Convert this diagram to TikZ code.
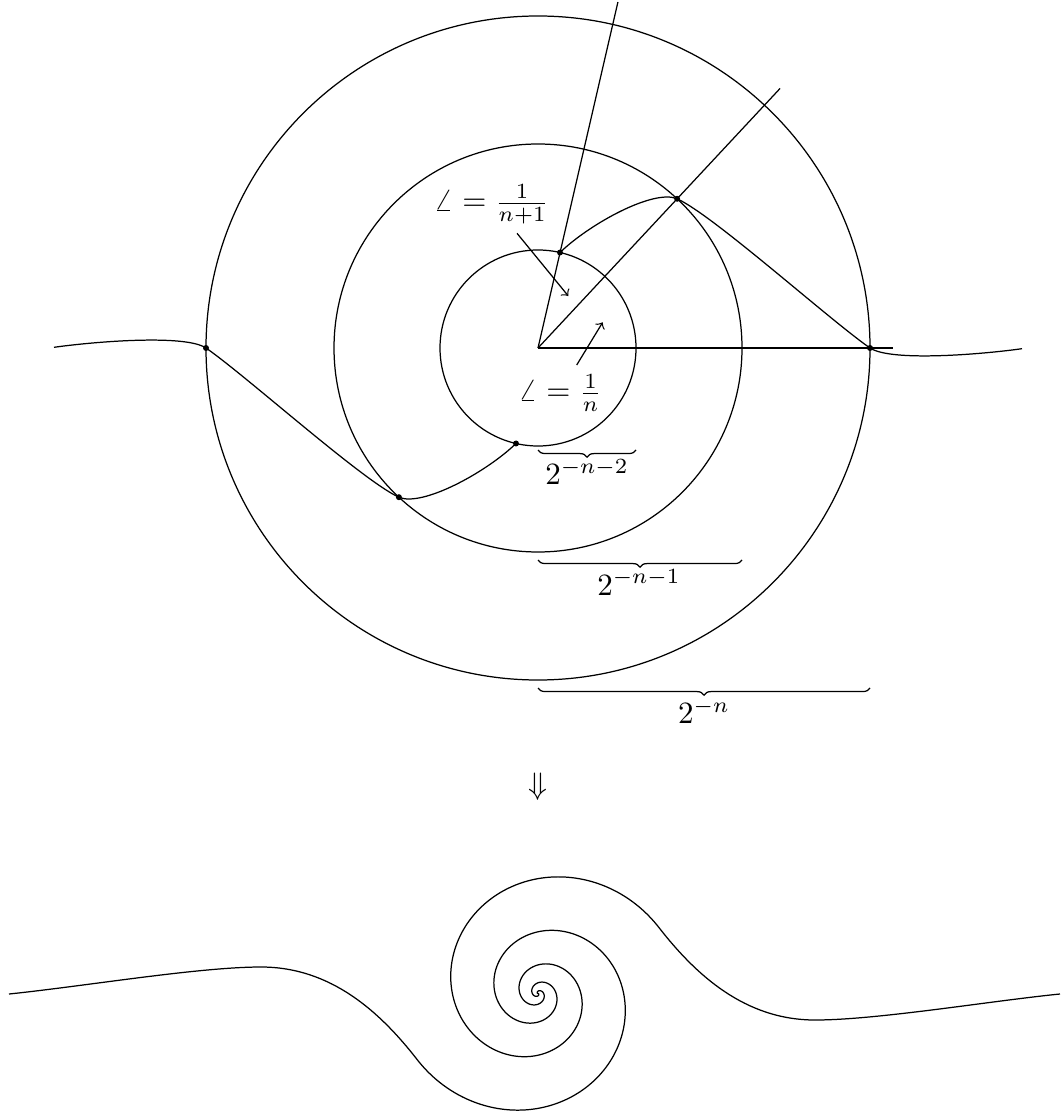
\documentclass[tikz,border=0pt]{standalone}
\usetikzlibrary{decorations.pathreplacing}
\begin{document}
\begin{tikzpicture}[x=0.01134cm,y=-0.01134cm,
  dotmark/.style={fill=black},
  bracedec/.style={decorate,decoration={brace,mirror,amplitude=2.3pt}},
  lab/.style={inner sep=0pt, anchor=base}]
\useasboundingbox (0,0) rectangle (1060,1115);
% ---------- upper construction ----------
\coordinate (O) at (538,348);
\draw (O) circle[radius=98];
\draw (O) circle[radius=204];
\draw (O) circle[radius=332];
\coordinate (r0) at (893,348);
\coordinate (r1) at (780.1,88.4);
\coordinate (r2) at (617.9,2.1);
\draw (O) -- (r0);
\draw (O) -- (r1);
\draw (O) -- (r2);
% points on the circles
\coordinate (d1) at (870,348);
\coordinate (d2) at (677.1,198.8);
\coordinate (d3) at (560,252.5);
\coordinate (d4) at (206,348);
\coordinate (d5) at (398.9,497.2);
\coordinate (d6) at (516,443.5);
\coordinate (e1) at (1022,348.7);
\coordinate (e2) at (54,347.3);
\draw (d3) .. controls (590,223.5) and (654,188.7) .. (d2)
           .. controls (713,215) and (829,319.5) .. (d1)
           .. controls (891,362) and (982,354.3) .. (e1);
\draw (d6) .. controls (486,472.5) and (422,507.3) .. (d5)
           .. controls (363,481) and (247,376.5) .. (d4)
           .. controls (185,334) and (94,341.7) .. (e2);
\foreach \p in {d1,d2,d3,d4,d5,d6} \fill[dotmark] (\p) circle[radius=3];
% angle labels
\node[lab] (l1) at (491.5,211) {$\angle = \frac{1}{n+1}$};
\node[lab] (l2) at (560,401) {$\angle = \frac{1}{n}$};
\coordinate (a1s) at (517,233.3);
\coordinate (a1e) at (568.3,296);
\coordinate (a2s) at (576.7,365);
\coordinate (a2e) at (602.7,322.3);
\draw[->] (a1s) -- (a1e);
\draw[->] (a2s) -- (a2e);
% braces
\draw[bracedec] (538,450) -- (636,450);
\draw[bracedec] (538,560) -- (742,560);
\draw[bracedec] (538,688) -- (870,688);
\node[lab] (b1) at (587,485) {$2^{-n-2}$};
\node[lab] (b2) at (639,595) {$2^{-n-1}$};
\node[lab] (b3) at (704,723.3) {$2^{-n}$};
% implication
\node[lab] (imp) at (538,794) {$\Downarrow$};
% ---------- lower spiral ----------
\pgfmathsetmacro\roff{exp(4.8-0.17*14.5-0.006*14.5*14.5)}
\draw (1060,994) .. controls (990,1001) and (877,1020) .. (815,1020)
      .. controls (745,1020) and (695.8,974.9) .. (658.94,927.54)
      -- plot[domain=-0.89:14.5, samples=700, variable=\t]
      ({538+(exp(4.8-0.17*\t-0.006*\t*\t)-\roff)*cos(deg(\t)+79.6)},
       {993.5-(exp(4.8-0.17*\t-0.006*\t*\t)-\roff)*sin(deg(\t)+79.6)});
\draw (9,994) .. controls (86,986) and (199,967) .. (261,967)
      .. controls (331,967) and (380.2,1012.1) .. (417.06,1059.46)
      -- plot[domain=-0.89:14.5, samples=700, variable=\t]
      ({538-(exp(4.8-0.17*\t-0.006*\t*\t)-\roff)*cos(deg(\t)+79.6)},
       {993.5+(exp(4.8-0.17*\t-0.006*\t*\t)-\roff)*sin(deg(\t)+79.6)});
\end{tikzpicture}
\end{document}
